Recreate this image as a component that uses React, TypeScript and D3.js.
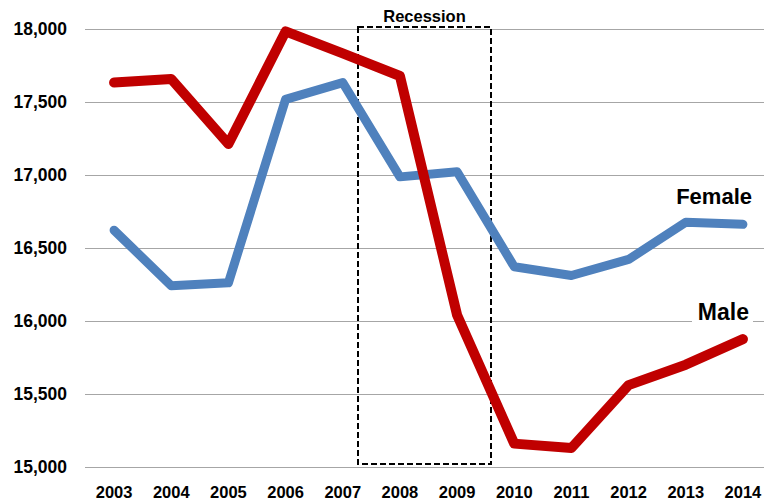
import React from 'react';
import * as d3 from 'd3';

const years = [2003, 2004, 2005, 2006, 2007, 2008, 2009, 2010, 2011, 2012, 2013, 2014];
const female = [16620, 16240, 16260, 17515, 17630, 16985, 17020, 16370, 16310, 16420, 16675, 16660];
const male = [17630, 17655, 17210, 17980, 17830, 17675, 16040, 15160, 15130, 15560, 15700, 15875];
const yTicks = [15000, 15500, 16000, 16500, 17000, 17500, 18000];
const recession = { start: 2007.26, end: 2009.6, top: 18010, bottom: 15020 };

const W = 764;
const H = 500;
const font = '"Liberation Sans", Arial, sans-serif';

function App() {
  const x = d3.scaleLinear().domain([2002.5, 2014.5]).range([85.5, 771.5]);
  const y = d3.scaleLinear().domain([15000, 18000]).range([467, 28.5]);

  const line = d3.line<number>()
    .x((_, i) => x(years[i]))
    .y(d => y(d));

  const fmt = d3.format(',');

  // snap the dashed box to whole pixels so the 2px stroke stays crisp
  const boxX = Math.round(x(recession.start));
  const boxW = Math.round(x(recession.end)) - boxX;
  const boxY = Math.round(y(recession.top));
  const boxH = Math.round(y(recession.bottom)) - boxY;

  return (
    <svg width={W} height={H} style={{ position: 'absolute', left: 0, top: 0, background: '#fff' }}>
      {/* grid */}
      {yTicks.map(t => (
        <g key={t}>
          <line x1={85} x2={W} y1={Math.round(y(t)) + 0.5} y2={Math.round(y(t)) + 0.5} stroke="#a6a6a6" strokeWidth={1} />
          <text x={67} y={y(t)} dominantBaseline="central" textAnchor="end"
            fontFamily={font} fontWeight="bold" fontSize={17.5} fill="#000">{fmt(t)}</text>
        </g>
      ))}
      {years.map(yr => (
        <text key={yr} x={x(yr)} y={498} textAnchor="middle"
          fontFamily={font} fontWeight="bold" fontSize={16.5} fill="#000">{yr}</text>
      ))}

      {/* recession box */}
      <rect x={boxX} y={boxY} width={boxW} height={boxH} fill="none"
        stroke="#000" strokeWidth={2} strokeDasharray="6,3" />
      <text x={boxX + boxW / 2} y={22} textAnchor="middle"
        fontFamily={font} fontWeight="bold" fontSize={16.5} fill="#000">Recession</text>

      {/* series */}
      <path d={line(female) || ''} fill="none" stroke="#4f81bd" strokeWidth={9}
        strokeLinejoin="round" strokeLinecap="round" />
      <path d={line(male) || ''} fill="none" stroke="#c00000" strokeWidth={10}
        strokeLinejoin="round" strokeLinecap="round" />

      {/* labels */}
      <text x={752} y={204} textAnchor="end" fontFamily={font} fontWeight="bold" fontSize={22} fill="#000">Female</text>
      <rect x={692} y={304} width={61} height={24} fill="#fff" />
      <text x={749} y={320} textAnchor="end" fontFamily={font} fontWeight="bold" fontSize={23} fill="#000">Male</text>
    </svg>
  );
}

export default App;
